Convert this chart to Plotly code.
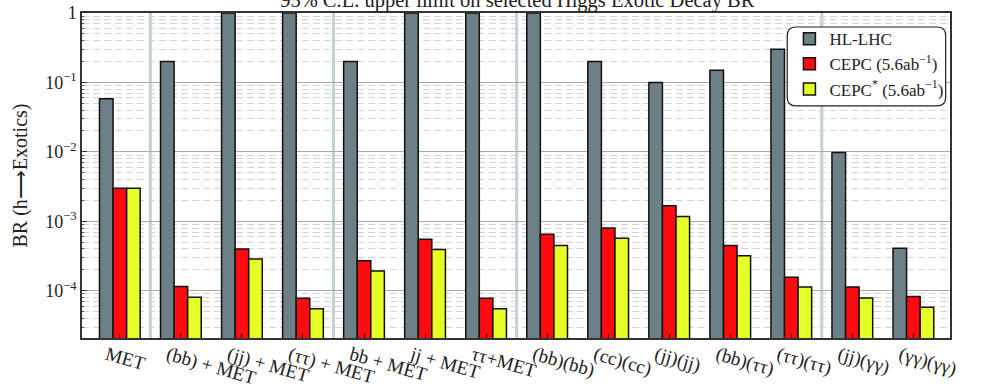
import plotly.graph_objects as go

categories = ["MET", "(bb) + MET", "(jj) + MET", "(ττ) + MET", "bb + MET", "jj + MET",
              "ττ+MET", "(bb)(bb)", "(cc)(cc)", "(jj)(jj)", "(bb)(ττ)", "(ττ)(ττ)",
              "(jj)(γγ)", "(γγ)(γγ)"]
hl_lhc = [0.058, 0.2, 1.0, 1.0, 0.2, 1.0, 1.0, 1.0, 0.2, 0.1, 0.15, 0.3, 0.0098, 4.1e-4]
cepc = [3.0e-3, 1.15e-4, 4.0e-4, 7.8e-5, 2.7e-4, 5.5e-4, 7.8e-5, 6.5e-4, 8.0e-4, 1.67e-3,
        4.5e-4, 1.57e-4, 1.13e-4, 8.3e-5]
cepc_star = [3.0e-3, 8.1e-5, 2.86e-4, 5.5e-5, 1.92e-4, 3.93e-4, 5.5e-5, 4.5e-4, 5.7e-4,
             1.17e-3, 3.2e-4, 1.13e-4, 7.9e-5, 5.8e-5]
series_names = ["HL-LHC", "CEPC (5.6ab<sup>−1</sup>)", "CEPC<sup>*</sup> (5.6ab<sup>−1</sup>)"]
y_tick_vals = [1e-4, 1e-3, 1e-2, 1e-1, 1]
y_tick_text = ["10<sup>−4</sup>", "10<sup>−3</sup>", "10<sup>−2</sup>", "10<sup>−1</sup>", "1"]
separators = [0.5, 3.5, 6.5, 11.5]

FONT = "Liberation Serif"
colors = ["#6d8087", "#ff0a0e", "#e6ff28"]
x = list(range(len(categories)))

fig = go.Figure()
for name, vals, col in zip(series_names, [hl_lhc, cepc, cepc_star], colors):
    fig.add_trace(go.Bar(x=x, y=vals, name=name, marker=dict(color=col, line=dict(color="#111111", width=1.5))))

minor_vals = [m * 10 ** e for e in range(-5, 0) for m in range(2, 10)]

fig.update_layout(
    width=990, height=387,
    margin=dict(l=82, r=40, t=13, b=49),
    paper_bgcolor="white", plot_bgcolor="white",
    barmode="group", bargap=0.333, bargroupgap=0,
    font=dict(family=FONT, size=18, color="#222222"),
    title=dict(text="95% C.L. upper limit on selected Higgs Exotic Decay BR",
               x=0.5225, xanchor="center", y=1.0, yref="container", yanchor="middle",
               font=dict(family=FONT, size=20.5, color="#222222")),
    showlegend=True,
    legend=dict(x=0.815, xanchor="left", y=0.975, yanchor="top",
                bgcolor="rgba(0,0,0,0)", borderwidth=0,
                font=dict(family=FONT, size=17, color="#222222"),
                itemwidth=30, tracegroupgap=0),
)

fig.update_xaxes(
    range=[-0.62, 13.6], tickvals=x, ticktext=categories, tickangle=16,
    ticks="inside", ticklen=4, tickcolor="#111111", showgrid=False, zeroline=False,
    showline=True, linecolor="#333333", linewidth=1.5, mirror=True,
    tickfont=dict(family=FONT, size=19, color="#222222"), automargin=False,
    ticklabelshift=-13, ticklabelstandoff=-3,
)
fig.update_yaxes(
    type="log", range=[-4.68, 0], tickvals=y_tick_vals, ticktext=y_tick_text,
    ticks="inside", ticklen=5, tickcolor="#333333",
    showgrid=True, gridcolor="#aaaaaa", gridwidth=1.2,
    minor=dict(tickvals=minor_vals, showgrid=True, griddash="7px,4px", gridcolor="#cfd5d8",
               gridwidth=1, ticks="inside", ticklen=2.5, tickcolor="#555555"),
    showline=True, linecolor="#333333", linewidth=1.5, mirror=True, zeroline=False,
    title=dict(text="BR (h⟶Exotics)", standoff=12, font=dict(family=FONT, size=20)),
    tickfont=dict(family=FONT, size=18, color="#222222"), automargin=False,
)

for s in separators:
    fig.add_shape(type="line", x0=s, x1=s, y0=0, y1=1, xref="x", yref="paper",
                  line=dict(color="rgba(150,170,178,0.55)", width=3), layer="below")

# rounded legend frame
x0, x1, y0, y1, r = 0.8125, 0.995, 0.714, 0.957, 0.01
ry = r * 868 / 325
path = (f"M {x0+r},{y0} L {x1-r},{y0} Q {x1},{y0} {x1},{y0+ry} L {x1},{y1-ry} "
        f"Q {x1},{y1} {x1-r},{y1} L {x0+r},{y1} Q {x0},{y1} {x0},{y1-ry} "
        f"L {x0},{y0+ry} Q {x0},{y0} {x0+r},{y0} Z")
fig.add_shape(type="path", path=path, xref="paper", yref="paper",
              line=dict(color="#222222", width=1.2), fillcolor="white", layer="above",
              opacity=1)

fig.write_html("out.html", config={"displayModeBar": False},
               post_script="document.body.style.margin='0px';")
